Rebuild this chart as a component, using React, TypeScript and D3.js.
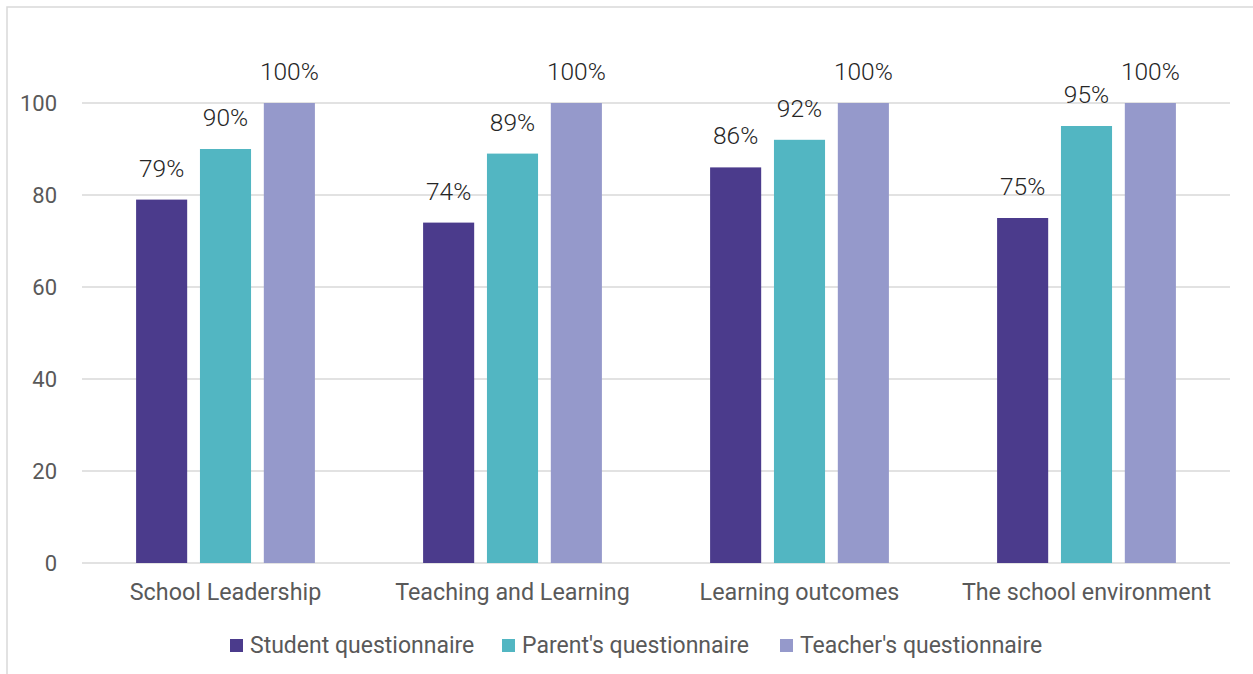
import React from "react";
import * as d3 from "d3";

const categories = ["School Leadership", "Teaching and Learning", "Learning outcomes", "The school environment"];
const seriesNames = ["Student questionnaire", "Parent's questionnaire", "Teacher's questionnaire"];
const student = [79, 74, 86, 75];
const parent = [90, 89, 92, 95];
const teacher = [100, 100, 100, 100];
const yTicks = [0, 20, 40, 60, 80, 100];
const colors = ["#4B3B8C", "#52B6C2", "#9599CB"];

const W = 1253, H = 674;
const left = 82, right = 1230, top = 103, bottom = 563;
const font = "Roboto, 'DejaVu Sans', sans-serif";

export default function App() {
  const series = [student, parent, teacher];
  const x0 = d3.scaleBand().domain(categories).range([left, right]).paddingInner(0.377).paddingOuter(0.1885);
  const x1 = d3.scaleBand().domain(seriesNames).range([0, x0.bandwidth()]).paddingInner(0.2);
  const y = d3.scaleLinear().domain([0, 100]).range([bottom, top]);
  const legendX = [230, 502, 780];
  return (
    <svg width={W} height={H} style={{ position: "absolute", left: 0, top: 0 }} fontFamily={font}>
      <rect x={0} y={0} width={W} height={H} fill="#fff" />
      <rect x={7} y={7} width={W + 20} height={H + 20} fill="none" stroke="#D9D9D9" strokeWidth={1.5} />
      {yTicks.map((t) => (
        <g key={t}>
          <line x1={left} x2={right} y1={y(t)} y2={y(t)} stroke="#D9D9D9" strokeWidth={1.5} />
          <text x={57} y={y(t)} dy="0.36em" textAnchor="end" fontSize={22} fill="#595959">{t}</text>
        </g>
      ))}
      {categories.map((c, i) => (
        <g key={c}>
          {series.map((s, j) => {
            const bx = (x0(c) as number) + (x1(seriesNames[j]) as number);
            const bw = x1.bandwidth();
            return (
              <g key={j}>
                <rect x={bx} y={y(s[i])} width={bw} height={bottom - y(s[i])} fill={colors[j]} />
                <text x={bx + bw / 2} y={y(s[i]) - 23} textAnchor="middle" fontSize={24.5} fontWeight={300} fill="#262626">{s[i]}%</text>
              </g>
            );
          })}
          <text x={(x0(c) as number) + x0.bandwidth() / 2} y={600} textAnchor="middle" fontSize={23.3} fill="#595959">{c}</text>
        </g>
      ))}
      {seriesNames.map((n, j) => (
        <g key={n}>
          <rect x={legendX[j]} y={639} width={13} height={13} fill={colors[j]} />
          <text x={legendX[j] + 20} y={653} fontSize={23} fill="#595959">{n}</text>
        </g>
      ))}
    </svg>
  );
}
